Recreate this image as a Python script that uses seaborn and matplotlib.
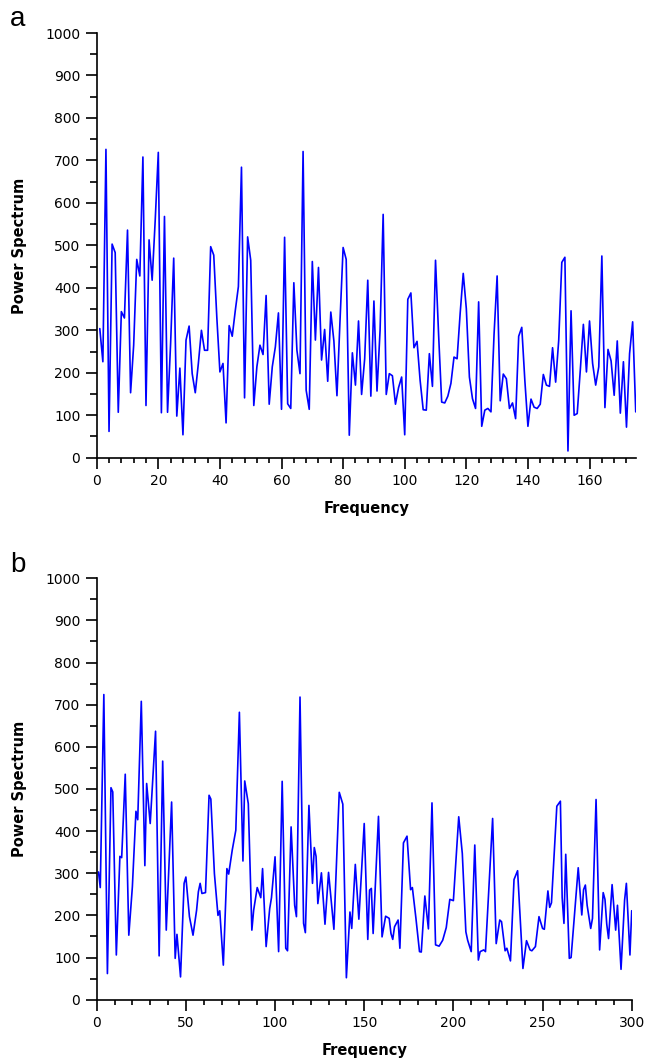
import numpy as np
import pandas as pd
import matplotlib
matplotlib.use("Agg")
import matplotlib.pyplot as plt
import seaborn as sns
from matplotlib.ticker import MultipleLocator

# ---- Panel a data (frequency index 1..175) ----
freq_a = list(range(1, 176))
power_a = [
    304, 226, 726, 62, 503, 483, 107, 344, 329, 536,
    153, 265, 467, 428, 708, 123, 513, 418, 560, 719,
    106, 568, 107, 270, 470, 98, 211, 54, 277, 310,
    198, 153, 222, 300, 253, 253, 497, 477, 330, 202,
    222, 82, 311, 286, 347, 403, 684, 141, 520, 465,
    123, 214, 265, 243, 382, 126, 214, 261, 341, 114,
    519, 127, 116, 412, 253, 198, 721, 159, 114, 462,
    277, 448, 230, 302, 180, 343, 275, 146, 324, 495,
    467, 53, 247, 171, 322, 149, 233, 418, 145, 369,
    157, 300, 573, 149, 198, 193, 126, 165, 190, 54,
    373, 388, 259, 274, 182, 113, 112, 245, 168, 465,
    290, 131, 129, 145, 175, 237, 233, 340, 434, 351,
    190, 139, 116, 367, 74, 112, 116, 108, 290, 428,
    134, 197, 186, 116, 129, 92, 286, 307, 182, 74,
    138, 119, 116, 126, 196, 171, 168, 259, 178, 277,
    460, 472, 16, 346, 100, 104, 206, 314, 202, 322,
    222, 171, 214, 475, 118, 255, 228, 147, 275, 105,
    226, 72, 245, 320, 108,
]

# ---- Panel b data ----
freq_b = [
    1, 2, 4, 6, 8, 9, 11, 13, 14, 16, 18, 20, 22, 23, 25, 27, 28, 30, 33, 35,
    37, 39, 42, 44, 45, 47, 49, 50, 52, 54, 56, 57, 58, 59, 61, 63, 64, 66, 68, 69,
    71, 73, 74, 76, 78, 80, 82, 83, 85, 87, 88, 90, 92, 93, 95, 97, 98, 100, 102, 104,
    106, 107, 109, 111, 112, 114, 116, 117, 119, 121, 122, 123, 124, 126, 128, 130, 133, 136, 138, 140,
    142, 143, 145, 147, 150, 152, 153, 154, 155, 158, 160, 162, 164, 165, 166, 167, 169, 170, 172, 174,
    176, 177, 179, 181, 182, 184, 186, 188, 190, 192, 194, 196, 198, 200, 203, 205, 207, 208, 210, 212,
    214, 215, 217, 218, 222, 224, 226, 227, 229, 230, 232, 234, 236, 239, 241, 243, 244, 246, 248, 250,
    251, 253, 254, 255, 258, 260, 261, 262, 263, 265, 266, 270, 272, 273, 274, 275, 277, 278, 280, 282,
    284, 285, 286, 287, 289, 291, 292, 294, 296, 297, 299, 300,
]
power_b = [
    303, 266, 724, 62, 503, 493, 106, 340, 337, 535, 153, 268, 447, 427, 708, 318, 513, 418, 637, 104,
    566, 165, 469, 98, 155, 54, 276, 291, 197, 153, 212, 256, 276, 252, 254, 485, 476, 299, 200, 211,
    82, 311, 298, 355, 402, 682, 329, 519, 465, 165, 212, 266, 242, 311, 126, 216, 242, 339, 114, 518,
    122, 116, 410, 224, 197, 718, 181, 159, 461, 276, 361, 340, 228, 301, 179, 302, 167, 492, 464, 52,
    208, 169, 321, 191, 418, 143, 260, 264, 157, 435, 149, 198, 193, 157, 143, 173, 189, 122, 372, 388,
    261, 266, 193, 114, 113, 246, 168, 467, 130, 127, 141, 171, 238, 235, 434, 347, 161, 141, 114, 367,
    94, 114, 118, 114, 430, 133, 189, 185, 116, 122, 92, 285, 306, 74, 140, 118, 116, 126, 197, 169,
    167, 258, 219, 230, 459, 471, 242, 181, 345, 98, 100, 313, 201, 261, 272, 224, 169, 193, 475, 118,
    254, 238, 179, 145, 273, 165, 224, 72, 236, 276, 106, 211,
]

y_ticks = [0, 100, 200, 300, 400, 500, 600, 700, 800, 900, 1000]

sns.set_theme(style="ticks")
plt.rcParams["font.family"] = ["DejaVu Sans"]
plt.rcParams["text.color"] = "black"

df_a = pd.DataFrame({"Frequency": freq_a, "Power": power_a})
df_b = pd.DataFrame({"Frequency": freq_b, "Power": power_b})

fig = plt.figure(figsize=(6.46, 10.62), dpi=100)
ax_a = fig.add_axes([0.1497, 0.5690, 0.8344, 0.3999])
ax_b = fig.add_axes([0.1497, 0.0587, 0.8282, 0.3968])


def style(ax, xmax, xmajor, xminor):
    ax.set_xlim(0, xmax)
    ax.set_ylim(0, 1000)
    ax.set_yticks(y_ticks)
    ax.xaxis.set_major_locator(MultipleLocator(xmajor))
    ax.xaxis.set_minor_locator(MultipleLocator(xminor))
    ax.yaxis.set_minor_locator(MultipleLocator(50))
    ax.set_facecolor("white")
    ax.grid(False)
    for s in ["top", "right"]:
        ax.spines[s].set_visible(False)
    for s in ["left", "bottom"]:
        ax.spines[s].set_color("black")
        ax.spines[s].set_linewidth(1.2)
    ax.tick_params(axis="both", which="major", direction="out", length=7.8,
                   width=1.2, color="black", labelsize=10, labelcolor="black", pad=4)
    ax.tick_params(axis="y", which="minor", direction="out", length=4.8, width=1.2, color="black")
    ax.tick_params(axis="x", which="minor", direction="out", length=3.6, width=1.2, color="black")
    ax.set_xlabel("Frequency", fontsize=10.5, fontweight="bold", color="black", labelpad=9)
    ax.set_ylabel("Power Spectrum", fontsize=10.5, fontweight="bold", color="black", labelpad=13)


sns.lineplot(data=df_a, x="Frequency", y="Power", ax=ax_a, color="#0000FF",
             linewidth=1.2, estimator=None, sort=False)
sns.lineplot(data=df_b, x="Frequency", y="Power", ax=ax_b, color="#0000FF",
             linewidth=1.2, estimator=None, sort=False)

style(ax_a, 175, 20, 4)
style(ax_b, 300, 50, 10)

fig.text(10 / 646, 1 - 26 / 1062, "a", fontsize=20, family="Liberation Sans",
         color="black", va="baseline", ha="left")
fig.text(10 / 646, 1 - 571.7 / 1062, "b", fontsize=20, family="Liberation Sans",
         color="black", va="baseline", ha="left")

fig.savefig("out.png", dpi=100, facecolor="white")
